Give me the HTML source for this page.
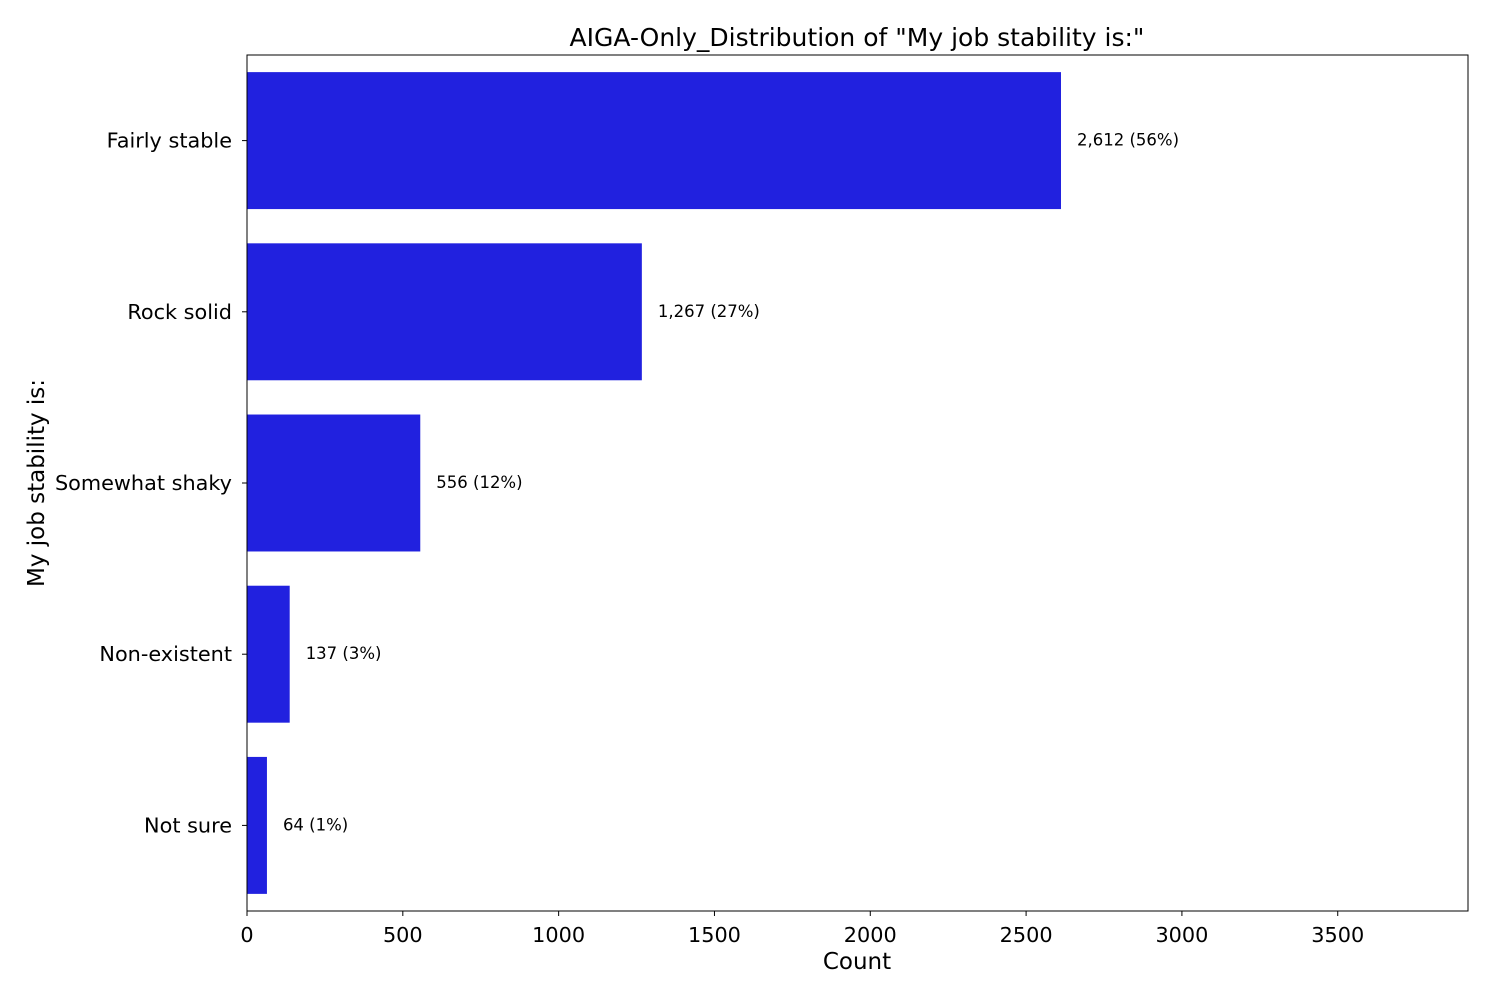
<!DOCTYPE html>
<html><head><meta charset="utf-8"><style>
body{margin:0;background:#fff;}
svg{display:block;font-family:"DejaVu Sans","Liberation Sans",sans-serif;}
</style></head><body>
<svg id="chart" width="1500" height="1000">
<text x="857" y="46" text-anchor="middle" font-size="25">AIGA-Only_Distribution of "My job stability is:"</text>
<g id="bars"></g>
<g id="xticks"></g>
<g id="yticks"></g>
<rect x="247" y="55" width="1221" height="856" fill="none" stroke="#000" stroke-width="1"/>
<text x="857" y="969" text-anchor="middle" font-size="23">Count</text>
<text transform="translate(44,483) rotate(-90)" text-anchor="middle" font-size="23">My job stability is:</text>
</svg>
<script>
const categories=["Fairly stable","Rock solid","Somewhat shaky","Non-existent","Not sure"];
const counts=[2612,1267,556,137,64];
const valueLabels=["2,612 (56%)","1,267 (27%)","556 (12%)","137 (3%)","64 (1%)"];
const xTicks=[0,500,1000,1500,2000,2500,3000,3500];
const NS="http://www.w3.org/2000/svg";
const L=247,R=1468,T=55,B=911;
const xMax=Math.max(...counts)*1.5;
const x=v=>L+v/xMax*(R-L);
const band=(B-T)/categories.length;
const y=i=>T+band*i+band*0.1;
const bh=band*0.8;
function mk(tag,attrs,parent){const e=document.createElementNS(NS,tag);for(const k in attrs)e.setAttribute(k,attrs[k]);parent.appendChild(e);return e;}
const gb=document.getElementById('bars'),gx=document.getElementById('xticks'),gy=document.getElementById('yticks');
categories.forEach((c,i)=>{
  const r=mk('rect',{x:L,y:y(i),width:x(counts[i])-L,height:bh,fill:'#2121df'},gb);
  
  
  const t=mk('text',{x:x(counts[i])+16,y:y(i)+bh/2+5,'font-size':16.5},gb);
  t.textContent=valueLabels[i];
  
  
  const cy=y(i)+bh/2;
  mk('line',{x1:L-5,x2:L,y1:cy,y2:cy,stroke:'#000'},gy);
  const yl=mk('text',{x:L-15,y:cy+7,'text-anchor':'end','font-size':20.8},gy);
  yl.textContent=c;
  
  
});
xTicks.forEach(v=>{
  mk('line',{x1:x(v),x2:x(v),y1:B,y2:B+5,stroke:'#000'},gx);
  const t=mk('text',{x:x(v),y:B+31,'text-anchor':'middle','font-size':20.8},gx);
  t.textContent=v;
  
  
});
</script>
</body></html>
